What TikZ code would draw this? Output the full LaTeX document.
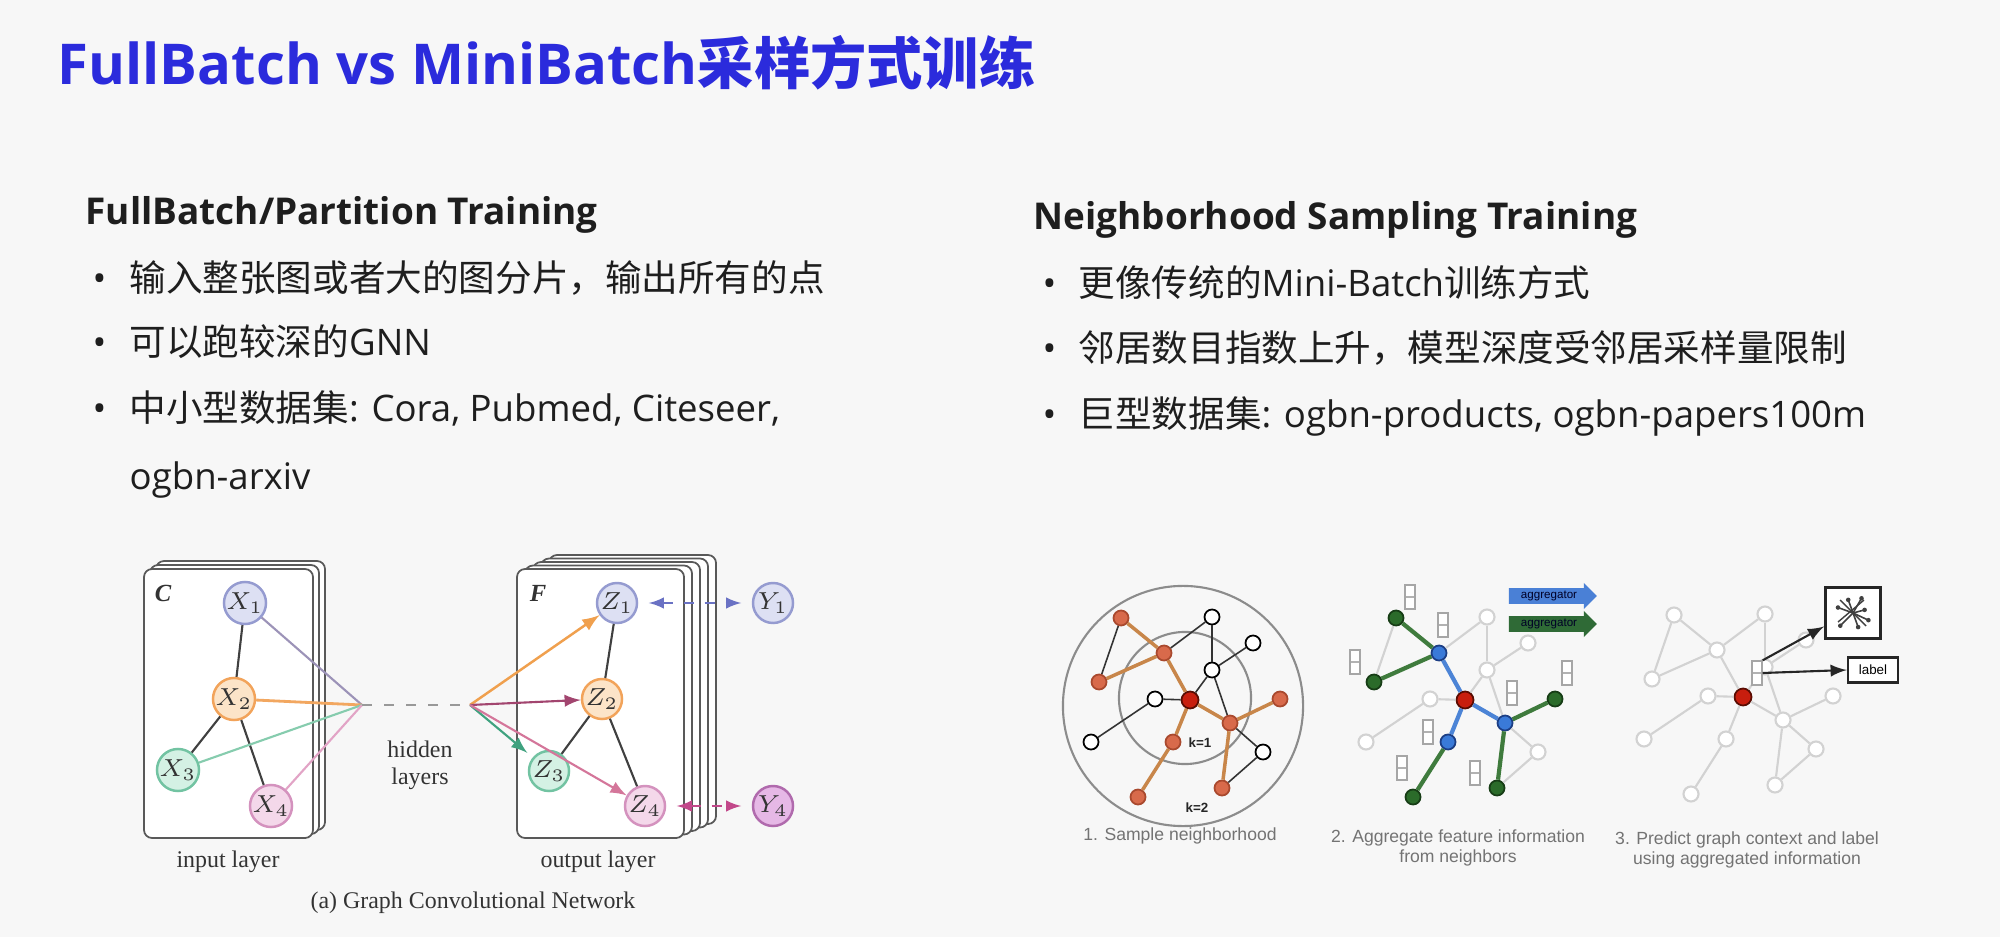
\documentclass[tikz,border=0pt]{standalone}
\usepackage{fontspec}
\setmainfont{Open Sans}
\newfontfamily\cjk{Noto Sans CJK SC}
\newfontfamily\figfont{Liberation Sans}
\newfontfamily\gcnfont{Liberation Serif}
\usetikzlibrary{arrows,shapes.arrows}
\definecolor{bgc}{HTML}{F7F7F7}
\definecolor{ink}{HTML}{1E1E1E}
\definecolor{titleblue}{HTML}{2B2BDC}
\definecolor{cpf}{HTML}{DDE0F3}\definecolor{cpd}{HTML}{959BD0}
\definecolor{cof}{HTML}{FCE4C8}\definecolor{cod}{HTML}{F2A35A}
\definecolor{cgf}{HTML}{D4F1E4}\definecolor{cgd}{HTML}{72C3A2}
\definecolor{ckf}{HTML}{F4D8EA}\definecolor{ckd}{HTML}{D492BE}
\definecolor{cyf}{HTML}{E6B8E6}\definecolor{cyd}{HTML}{B06AAD}
\definecolor{lnp}{HTML}{9C93B8}\definecolor{lno}{HTML}{F2A760}
\definecolor{lng}{HTML}{86CCAE}\definecolor{lnk}{HTML}{E2A4C6}
\definecolor{aro}{HTML}{F0A04E}\definecolor{arm}{HTML}{A2456F}
\definecolor{arg}{HTML}{3FA27F}\definecolor{ark}{HTML}{D4769A}
\definecolor{dbl}{HTML}{6A72C4}\definecolor{dmg}{HTML}{C2488A}
\definecolor{redc}{HTML}{C81E0E}\definecolor{redd}{HTML}{5A0C02}
\definecolor{salf}{HTML}{D86A4B}\definecolor{sald}{HTML}{A9492E}
\definecolor{treel}{HTML}{C8864A}
\definecolor{hubf}{HTML}{3A7AD8}\definecolor{hubd}{HTML}{1C3E84}
\definecolor{leaff}{HTML}{2B6B2A}\definecolor{leafd}{HTML}{173D16}
\definecolor{bluel}{HTML}{4C84D6}\definecolor{greenl}{HTML}{3F7B3D}
\definecolor{faintc}{HTML}{D2D2D2}
\definecolor{aggb}{HTML}{4A80D6}\definecolor{aggg}{HTML}{2F6A36}
\begin{document}
\begin{tikzpicture}[x=0.01cm,y=-0.01cm]
\tikzstyle{body}=[anchor=base west,inner sep=0pt,font=\fontsize{10.4}{12}\selectfont,text=ink]
\tikzstyle{headtxt}=[anchor=base west,inner sep=0pt,font=\fontsize{10.5}{12}\selectfont\bfseries,text=ink]
\tikzstyle{sheet}=[draw=black!65,fill=white,rounded corners=0.08cm,line width=0.5pt]
\tikzstyle{gnode}=[circle,minimum size=0.4cm,inner sep=0pt,line width=0.7pt,text=black!80,font=\fontsize{7}{8}\selectfont]
\tikzstyle{cp}=[gnode,draw=cpd,fill=cpf]
\tikzstyle{co}=[gnode,draw=cod,fill=cof]
\tikzstyle{cg}=[gnode,draw=cgd,fill=cgf]
\tikzstyle{ck}=[gnode,draw=ckd,fill=ckf]
\tikzstyle{cy}=[gnode,draw=cyd,fill=cyf]
\tikzstyle{gtext}=[inner sep=0pt,align=center,font=\gcnfont\fontsize{6.8}{7.7}\selectfont,text=black!80]
\tikzstyle{ctr}=[circle,minimum size=0.17cm,inner sep=0pt,draw=redd,fill=redc,line width=0.5pt]
\tikzstyle{samp}=[circle,minimum size=0.15cm,inner sep=0pt,draw=sald,fill=salf,line width=0.5pt]
\tikzstyle{unsamp}=[circle,minimum size=0.15cm,inner sep=0pt,draw=black,fill=white,line width=0.5pt]
\tikzstyle{hub}=[circle,minimum size=0.15cm,inner sep=0pt,draw=hubd,fill=hubf,line width=0.5pt]
\tikzstyle{leaf}=[circle,minimum size=0.15cm,inner sep=0pt,draw=leafd,fill=leaff,line width=0.5pt]
\tikzstyle{faint}=[circle,minimum size=0.15cm,inner sep=0pt,draw=faintc,fill=white,line width=0.6pt]
\tikzstyle{fvec}=[draw=black!35,fill=white,minimum width=0.1cm,minimum height=0.24cm,inner sep=0pt,line width=0.4pt,
  path picture={\draw[black!30,line width=0.3pt] (path picture bounding box.west) -- (path picture bounding box.east);}]
\tikzstyle{aggarr}=[shape=single arrow,single arrow head extend=1.5pt,minimum height=0.88cm,inner sep=0.6pt,
  font=\figfont\fontsize{3.3}{4}\selectfont,text=black!85!blue]
\tikzstyle{capt}=[inner sep=0pt,align=center,font=\figfont\fontsize{5}{5.7}\selectfont,text=black!55]
\tikzstyle{kl}=[inner sep=0pt,font=\figfont\fontsize{3.8}{4}\selectfont\bfseries,text=black!85]

\fill[bgc] (0,0) rectangle (2000,937);
\useasboundingbox (0,0) rectangle (2000,937);

\node[anchor=base west,inner sep=0pt,text=titleblue,font=\fontsize{16}{18}\selectfont\bfseries] (title) at (57,85) {FullBatch vs MiniBatch{\cjk 采样方式训练}};

\node[headtxt] (fbhead) at (85,225) {FullBatch/Partition Training};
\node[body] (fb1d) at (92,292) {\textbullet};
\node[body] (fb1) at (129,292) {\cjk 输入整张图或者大的图分片，输出所有的点};
\node[body] (fb2d) at (92,356) {\textbullet};
\node[body] (fb2) at (129,356) {{\cjk 可以跑较深的}GNN};
\node[body] (fb3d) at (92,422) {\textbullet};
\node[body] (fb3) at (129,422) {{\cjk 中小型数据集}: Cora, Pubmed, Citeseer,};
\node[body] (fb4) at (129,489) {ogbn-arxiv};

\node[headtxt] (nshead) at (1033,230) {Neighborhood Sampling Training};
\node[body] (ns1d) at (1042,297) {\textbullet};
\node[body] (ns1) at (1078,297) {{\cjk 更像传统的}Mini-Batch{\cjk 训练方式}};
\node[body] (ns2d) at (1042,362) {\textbullet};
\node[body] (ns2) at (1078,362) {\cjk 邻居数目指数上升，模型深度受邻居采样量限制};
\node[body] (ns3d) at (1042,428) {\textbullet};
\node[body] (ns3) at (1078,428) {{\cjk 巨型数据集}: ogbn-products, ogbn-papers100m};

% graph convolutional network
\foreach \i in {2,1} {\draw[sheet] (144+6*\i,569-4*\i) rectangle (313+6*\i,838-4*\i);}
\draw[sheet] (144,569) rectangle (313,838);
\foreach \i in {4,3,2,1} {\draw[sheet] (517+8*\i,569-3.5*\i) rectangle (684+8*\i,838-3.5*\i);}
\draw[sheet] (517,569) rectangle (684,838);
\node[gtext,font=\gcnfont\fontsize{7}{8}\selectfont\bfseries\itshape] (lc) at (163,593) {C};
\node[gtext,font=\gcnfont\fontsize{7}{8}\selectfont\bfseries\itshape] (lf) at (538,593) {F};

\node[cp] (x1) at (245,603) {$X_1$};
\node[co] (x2) at (234,699) {$X_2$};
\node[cg] (x3) at (178,770) {$X_3$};
\node[ck] (x4) at (271,806) {$X_4$};
\node[cp] (z1) at (617,603) {$Z_1$};
\node[co] (z2) at (602,699) {$Z_2$};
\node[cg] (z3) at (549,771) {$Z_3$};
\node[ck] (z4) at (645,806) {$Z_4$};
\node[cp] (y1) at (773,603) {$Y_1$};
\node[cy] (y4) at (773,806) {$Y_4$};
\coordinate (lhid) at (362,705);
\coordinate (rhid) at (470,705);

\draw[black!75,line width=0.6pt] (x1) -- (x2) (x2) -- (x3) (x2) -- (x4);
\draw[black!75,line width=0.6pt] (z1) -- (z2) (z2) -- (z3) (z2) -- (z4);
\draw[lnp,line width=0.6pt] (x1) -- (lhid);
\draw[lno,line width=0.8pt] (x2) -- (lhid);
\draw[lng,line width=0.6pt] (x3) -- (lhid);
\draw[lnk,line width=0.6pt] (x4) -- (lhid);
\draw[black!40,line width=0.6pt,dash pattern=on 0.1cm off 0.12cm] (lhid) -- (rhid);
\draw[aro,line width=0.7pt,-latex] (rhid) -- (z1);
\draw[arm,line width=0.6pt,-latex] (rhid) -- (z2);
\draw[arg,line width=0.6pt,-latex,shorten >=2pt] (rhid) -- (z3);
\draw[ark,line width=0.6pt,-latex] (rhid) -- (z4);
\draw[dbl,line width=0.5pt,dashed,latex-latex,shorten <=3pt,shorten >=3pt] (z1) -- (y1);
\draw[dmg,line width=0.5pt,dashed,latex-latex,shorten <=3pt,shorten >=3pt] (z4) -- (y4);

\node[gtext] (inl) at (228,862) {input layer};
\node[gtext] (outl) at (598,862) {output layer};
\node[gtext] (hid) at (420,765) {hidden\\layers};
\node[gtext] (gcap) at (473,903) {(a) Graph Convolutional Network};

% neighborhood sampling
\def\hubs{d/-26/-47, j/-17/42, l/40/23}
\def\leaves{a/-69/-82, b/-91/-18, k/-52/97, m/90/-1, o/32/88}
\def\others{e/22/-83, f/63/-57, g/22/-30, h/-35/-1, i/-99/42, n/73/52}
\def\inneredges{d/c, c/l, c/j}
\def\outeredges{a/d, b/d, l/m, j/k, l/o}
\def\restedges{a/b, d/e, e/g, g/f, g/c, g/l, c/h, h/i, l/n, n/o}

\draw[black!45,line width=0.6pt] (1183,706) circle (1.2cm);
\draw[black!45,line width=0.6pt] (1185,698) circle (0.66cm);
\node[ctr] (pac) at (1190,700) {};
\foreach \n/\x/\y in \hubs {\node[samp] (pa\n) at (1190+\x,700+\y) {};}
\foreach \n/\x/\y in \leaves {\node[samp] (pa\n) at (1190+\x,700+\y) {};}
\foreach \n/\x/\y in \others {\node[unsamp] (pa\n) at (1190+\x,700+\y) {};}
\foreach \u/\v in \restedges {\draw[black!80,line width=0.45pt] (pa\u) -- (pa\v);}
\foreach \u/\v in \inneredges {\draw[treel,line width=1pt] (pa\u) -- (pa\v);}
\foreach \u/\v in \outeredges {\draw[treel,line width=1pt] (pa\u) -- (pa\v);}
\node[kl] (k1) at (1200,743) {k=1};
\node[kl] (k2) at (1197,808) {k=2};

\node[ctr] (pbc) at (1465,700) {};
\foreach \n/\x/\y in \hubs {\node[hub] (pb\n) at (1465+\x,700+\y) {};}
\foreach \n/\x/\y in \leaves {\node[leaf] (pb\n) at (1465+\x,700+\y) {};}
\foreach \n/\x/\y in \others {\node[faint] (pb\n) at (1465+\x,700+\y) {};}
\foreach \u/\v in \restedges {\draw[faintc,line width=0.6pt] (pb\u) -- (pb\v);}
\foreach \u/\v in \inneredges {\draw[bluel,line width=1.2pt] (pb\u) -- (pb\v);}
\foreach \u/\v in \outeredges {\draw[greenl,line width=1.2pt] (pb\u) -- (pb\v);}
\foreach \vx/\vy [count=\c] in {1410/597, 1443/625, 1355/662, 1512/693, 1567/673, 1428/732, 1402/768, 1475/773}
  {\node[fvec] (vec\c) at (\vx,\vy) {};}
\node[aggarr,fill=aggb] (agg1) at (1549,596) {aggregator};
\node[aggarr,fill=aggg] (agg2) at (1549,624) {aggregator};

\node[ctr] (pcc) at (1743,697) {};
\foreach \n/\x/\y in \hubs {\node[faint] (pc\n) at (1743+\x,697+\y) {};}
\foreach \n/\x/\y in \leaves {\node[faint] (pc\n) at (1743+\x,697+\y) {};}
\foreach \n/\x/\y in \others {\node[faint] (pc\n) at (1743+\x,697+\y) {};}
\foreach \u/\v in \restedges {\draw[faintc,line width=0.6pt] (pc\u) -- (pc\v);}
\foreach \u/\v in \inneredges {\draw[faintc,line width=0.6pt] (pc\u) -- (pc\v);}
\foreach \u/\v in \outeredges {\draw[faintc,line width=0.6pt] (pc\u) -- (pc\v);}
\node[fvec] (vecc) at (1757,673) {};
\node[draw=black!85,fill=white,line width=0.8pt,minimum width=0.55cm,minimum height=0.51cm,inner sep=0pt] (ctxbox) at (1853,613) {};
\foreach \a/\r in {25/17, 70/15, 135/18, 200/16, 250/14, 300/17, 345/12}
  {\draw[black!75,line width=0.45pt] (ctxbox.center) -- ++(\a:\r) node[circle,fill=black!75,inner sep=0pt,minimum size=1.3pt] {};}
\draw[black!75,line width=0.4pt] (1840,600) -- (1866,626) (1838,622) -- (1864,600);
\node[draw=black!85,fill=white,line width=0.7pt,minimum width=0.5cm,minimum height=0.25cm,inner sep=0pt,
  font=\figfont\fontsize{3.8}{4}\selectfont] (lblbox) at (1873,670) {label};
\draw[black!85,line width=0.6pt,-latex] (vecc.north east) -- (ctxbox.205);
\draw[black!85,line width=0.6pt,-latex] (vecc.east) -- (lblbox.west);

\node[capt] (cap1) at (1180,836) {1. Sample neighborhood};
\node[capt] (cap2) at (1458,848) {2. Aggregate feature information\\from neighbors};
\node[capt] (cap3) at (1747,850) {3. Predict graph context and label\\using aggregated information};
\end{tikzpicture}
\end{document}
